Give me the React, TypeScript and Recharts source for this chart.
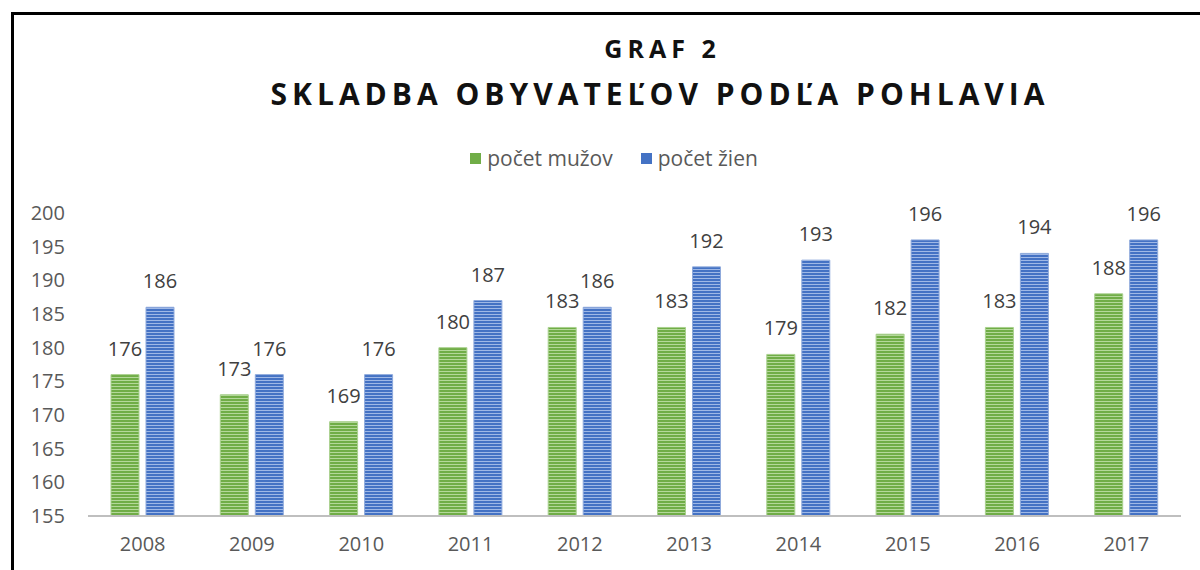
import React from 'react';
import { BarChart, Bar, XAxis, YAxis, LabelList, Legend } from 'recharts';

const years = ['2008', '2009', '2010', '2011', '2012', '2013', '2014', '2015', '2016', '2017'];
const muzi = [176, 173, 169, 180, 183, 183, 179, 182, 183, 188];
const zeny = [186, 176, 176, 187, 186, 192, 193, 196, 194, 196];
const yTicks = [155, 160, 165, 170, 175, 180, 185, 190, 195, 200];

const data = years.map((year, i) => ({ year, muzi: muzi[i], zeny: zeny[i] }));

const FONT = '"Open Sans", sans-serif';

const legendItems = [
  { label: 'počet mužov', color: '#70ad47' },
  { label: 'počet žien', color: '#4472c4' },
];

const renderLegend = () => (
  <div style={{ display: 'flex', justifyContent: 'center', marginLeft: 28, height: 26, fontFamily: FONT, fontSize: 21, color: '#595959' }}>
    {legendItems.map((item) => (
      <div key={item.label} style={{ display: 'flex', alignItems: 'center', margin: '0 14px' }}>
        <span style={{ width: 11, height: 11, background: item.color, marginRight: 6, display: 'inline-block' }} />
        <span>{item.label}</span>
      </div>
    ))}
  </div>
);

const App: React.FC = () => {
  return (
    <div style={{ position: 'absolute', left: 0, top: 0, width: 1200, height: 570, background: '#fff', overflow: 'hidden' }}>
      <div
        style={{
          position: 'absolute',
          left: 11,
          top: 12,
          width: 1200,
          height: 600,
          borderLeft: '3px solid #000',
          borderTop: '3px solid #000',
        }}
      />
      <div
        style={{
          position: 'absolute',
          top: 31,
          left: 0,
          width: 1325,
          textAlign: 'center',
          fontFamily: FONT,
          fontWeight: 700,
          fontSize: 25,
          letterSpacing: 5,
          color: '#111',
        }}
      >
        GRAF 2
      </div>
      <div
        style={{
          position: 'absolute',
          top: 73,
          left: 0,
          width: 1320,
          textAlign: 'center',
          fontFamily: FONT,
          fontWeight: 700,
          fontSize: 30,
          letterSpacing: 5,
          color: '#111',
        }}
      >
        SKLADBA OBYVATEĽOV PODĽA POHLAVIA
      </div>
      <BarChart
        width={1200}
        height={570}
        data={data}
        margin={{ top: 187, right: 19, bottom: 0, left: 0 }}
        barGap={7}
        barSize={28}
      >
        <defs>
          <pattern id="stripeGreen" width="4" height="3" patternUnits="userSpaceOnUse">
            <rect width="4" height="3" fill="#70ad47" />
            <rect y="2" width="4" height="1" fill="#b4d89a" />
          </pattern>
          <pattern id="stripeBlue" width="4" height="3" patternUnits="userSpaceOnUse">
            <rect width="4" height="3" fill="#4472c4" />
            <rect y="2" width="4" height="1" fill="#9fb8e6" />
          </pattern>
        </defs>
        <Legend
          verticalAlign="top"
          height={26}
          content={renderLegend}
          wrapperStyle={{ top: 145, left: 0, width: 1200 }}
        />
        <XAxis
          dataKey="year"
          height={54}
          tickLine={false}
          tickSize={0}
          tickMargin={21}
          axisLine={{ stroke: '#bfbfbf', strokeWidth: 2 }}
          tick={{ fill: '#595959', fontSize: 20, fontFamily: FONT }}
        />
        <YAxis
          width={88}
          domain={[155, 200]}
          ticks={yTicks}
          interval={0}
          allowDataOverflow
          axisLine={false}
          tickLine={false}
          tickSize={0}
          tickMargin={23}
          tick={{ fill: '#595959', fontSize: 20, fontFamily: FONT }}
        />
        <Bar dataKey="muzi" fill="url(#stripeGreen)" stroke="#a9d08e" strokeWidth={1} isAnimationActive={false}>
          <LabelList dataKey="muzi" position="top" offset={19} fill="#404040" fontSize={20} fontFamily={FONT} />
        </Bar>
        <Bar dataKey="zeny" fill="url(#stripeBlue)" stroke="#8faadc" strokeWidth={1} isAnimationActive={false}>
          <LabelList dataKey="zeny" position="top" offset={19} fill="#404040" fontSize={20} fontFamily={FONT} />
        </Bar>
      </BarChart>
    </div>
  );
};

export default App;
